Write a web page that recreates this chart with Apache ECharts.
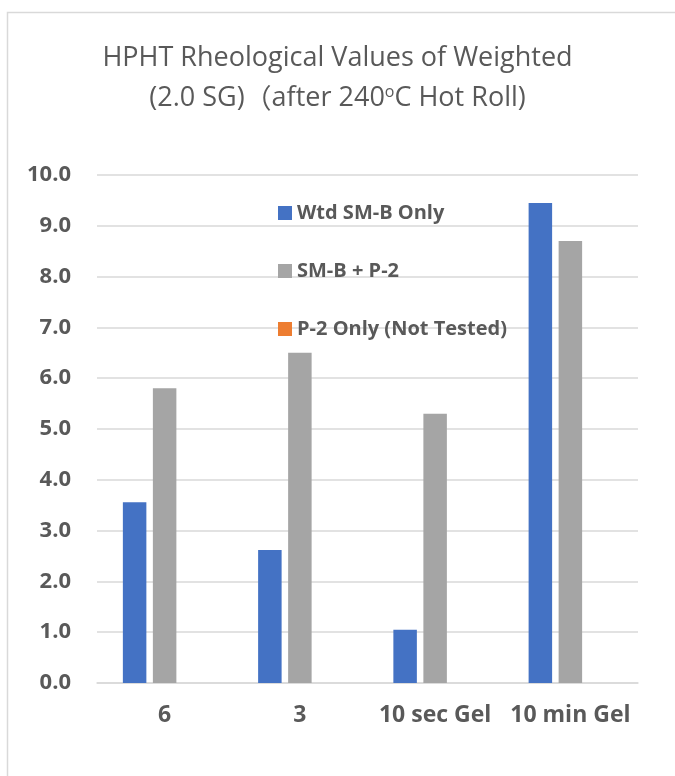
<!DOCTYPE html>
<html>
<head>
<meta charset="utf-8">
<script src="https://cdn.jsdelivr.net/npm/echarts@6/dist/echarts.min.js"></script>
<style>
html,body{margin:0;padding:0;background:#fff;}
#chart{width:675px;height:776px;}
</style>
</head>
<body>
<div id="chart"></div>
<script>
const categories = ['6', '3', '10 sec Gel', '10 min Gel'];
const seriesNames = ['Wtd SM-B Only', 'SM-B + P-2', 'P-2 Only (Not Tested)'];
const wtdSMB = [3.56, 2.62, 1.05, 9.45];
const smbP2 = [5.8, 6.5, 5.3, 8.7];
const p2Only = [null, null, null, null];
const yTicks = [0, 1, 2, 3, 4, 5, 6, 7, 8, 9, 10];

const FONT = '"Open Sans", sans-serif';
const TXT = '#595959';

const chart = echarts.init(document.getElementById('chart'), null, {renderer: 'canvas'});
chart.setOption({
  animation: false,
  backgroundColor: '#fff',
  graphic: [{
    type: 'rect',
    shape: {x: 7.5, y: 12.5, width: 900, height: 900},
    style: {fill: 'none', stroke: '#d9d9d9', lineWidth: 1.5},
    silent: true
  }],
  title: {
    text: 'HPHT Rheological Values of Weighted\n(2.0 SG){cjk|（}after 240{sup|o}C Hot Roll)',
    left: 'center',
    top: 33,
    textStyle: {
      fontFamily: FONT, fontSize: 27, fontWeight: 'normal', color: TXT, lineHeight: 40,
      rich: {
        cjk: {fontFamily: '"Noto Sans CJK SC", ' + FONT, fontSize: 27, color: TXT, lineHeight: 40},
        sup: {fontFamily: FONT, fontSize: 16, color: TXT, lineHeight: 40, padding: [0,0,12,0]}
      }
    }
  },
  legend: {
    orient: 'vertical',
    left: 273,
    top: 198,
    itemWidth: 14,
    itemHeight: 14,
    itemGap: 38,
    icon: 'rect',
    textStyle: {fontFamily: FONT, fontSize: 20, fontWeight: 'bold', color: TXT, lineHeight: 20},
    data: seriesNames
  },
  grid: {left: 97, right: 37, top: 175, bottom: 93, containLabel: false},
  xAxis: {
    type: 'category',
    data: categories,
    axisLine: {show: true, lineStyle: {color: '#d9d9d9', width: 1.5}},
    axisTick: {show: false},
    axisLabel: {interval: 0, fontFamily: FONT, fontSize: 23, fontWeight: 'bold', color: TXT, margin: 21}
  },
  yAxis: {
    type: 'value',
    min: yTicks[0],
    max: yTicks[yTicks.length - 1],
    interval: 1,
    axisLine: {show: false},
    axisTick: {show: false},
    splitLine: {lineStyle: {color: '#d9d9d9', width: 1.5}},
    axisLabel: {fontFamily: FONT, fontSize: 22, fontWeight: 'bold', color: TXT, margin: 26,
      formatter: v => v.toFixed(1)}
  },
  series: [
    {name: seriesNames[0], type: 'bar', data: wtdSMB, barWidth: 23.5, barGap: '27.7%', itemStyle: {color: '#4472C4'}},
    {name: seriesNames[1], type: 'bar', data: smbP2, barWidth: 23.5, barGap: '27.7%', itemStyle: {color: '#A5A5A5'}},
    {name: seriesNames[2], type: 'bar', data: p2Only, barWidth: 23.5, barGap: '27.7%', itemStyle: {color: '#ED7D31'}}
  ]
});
</script>
</body>
</html>
